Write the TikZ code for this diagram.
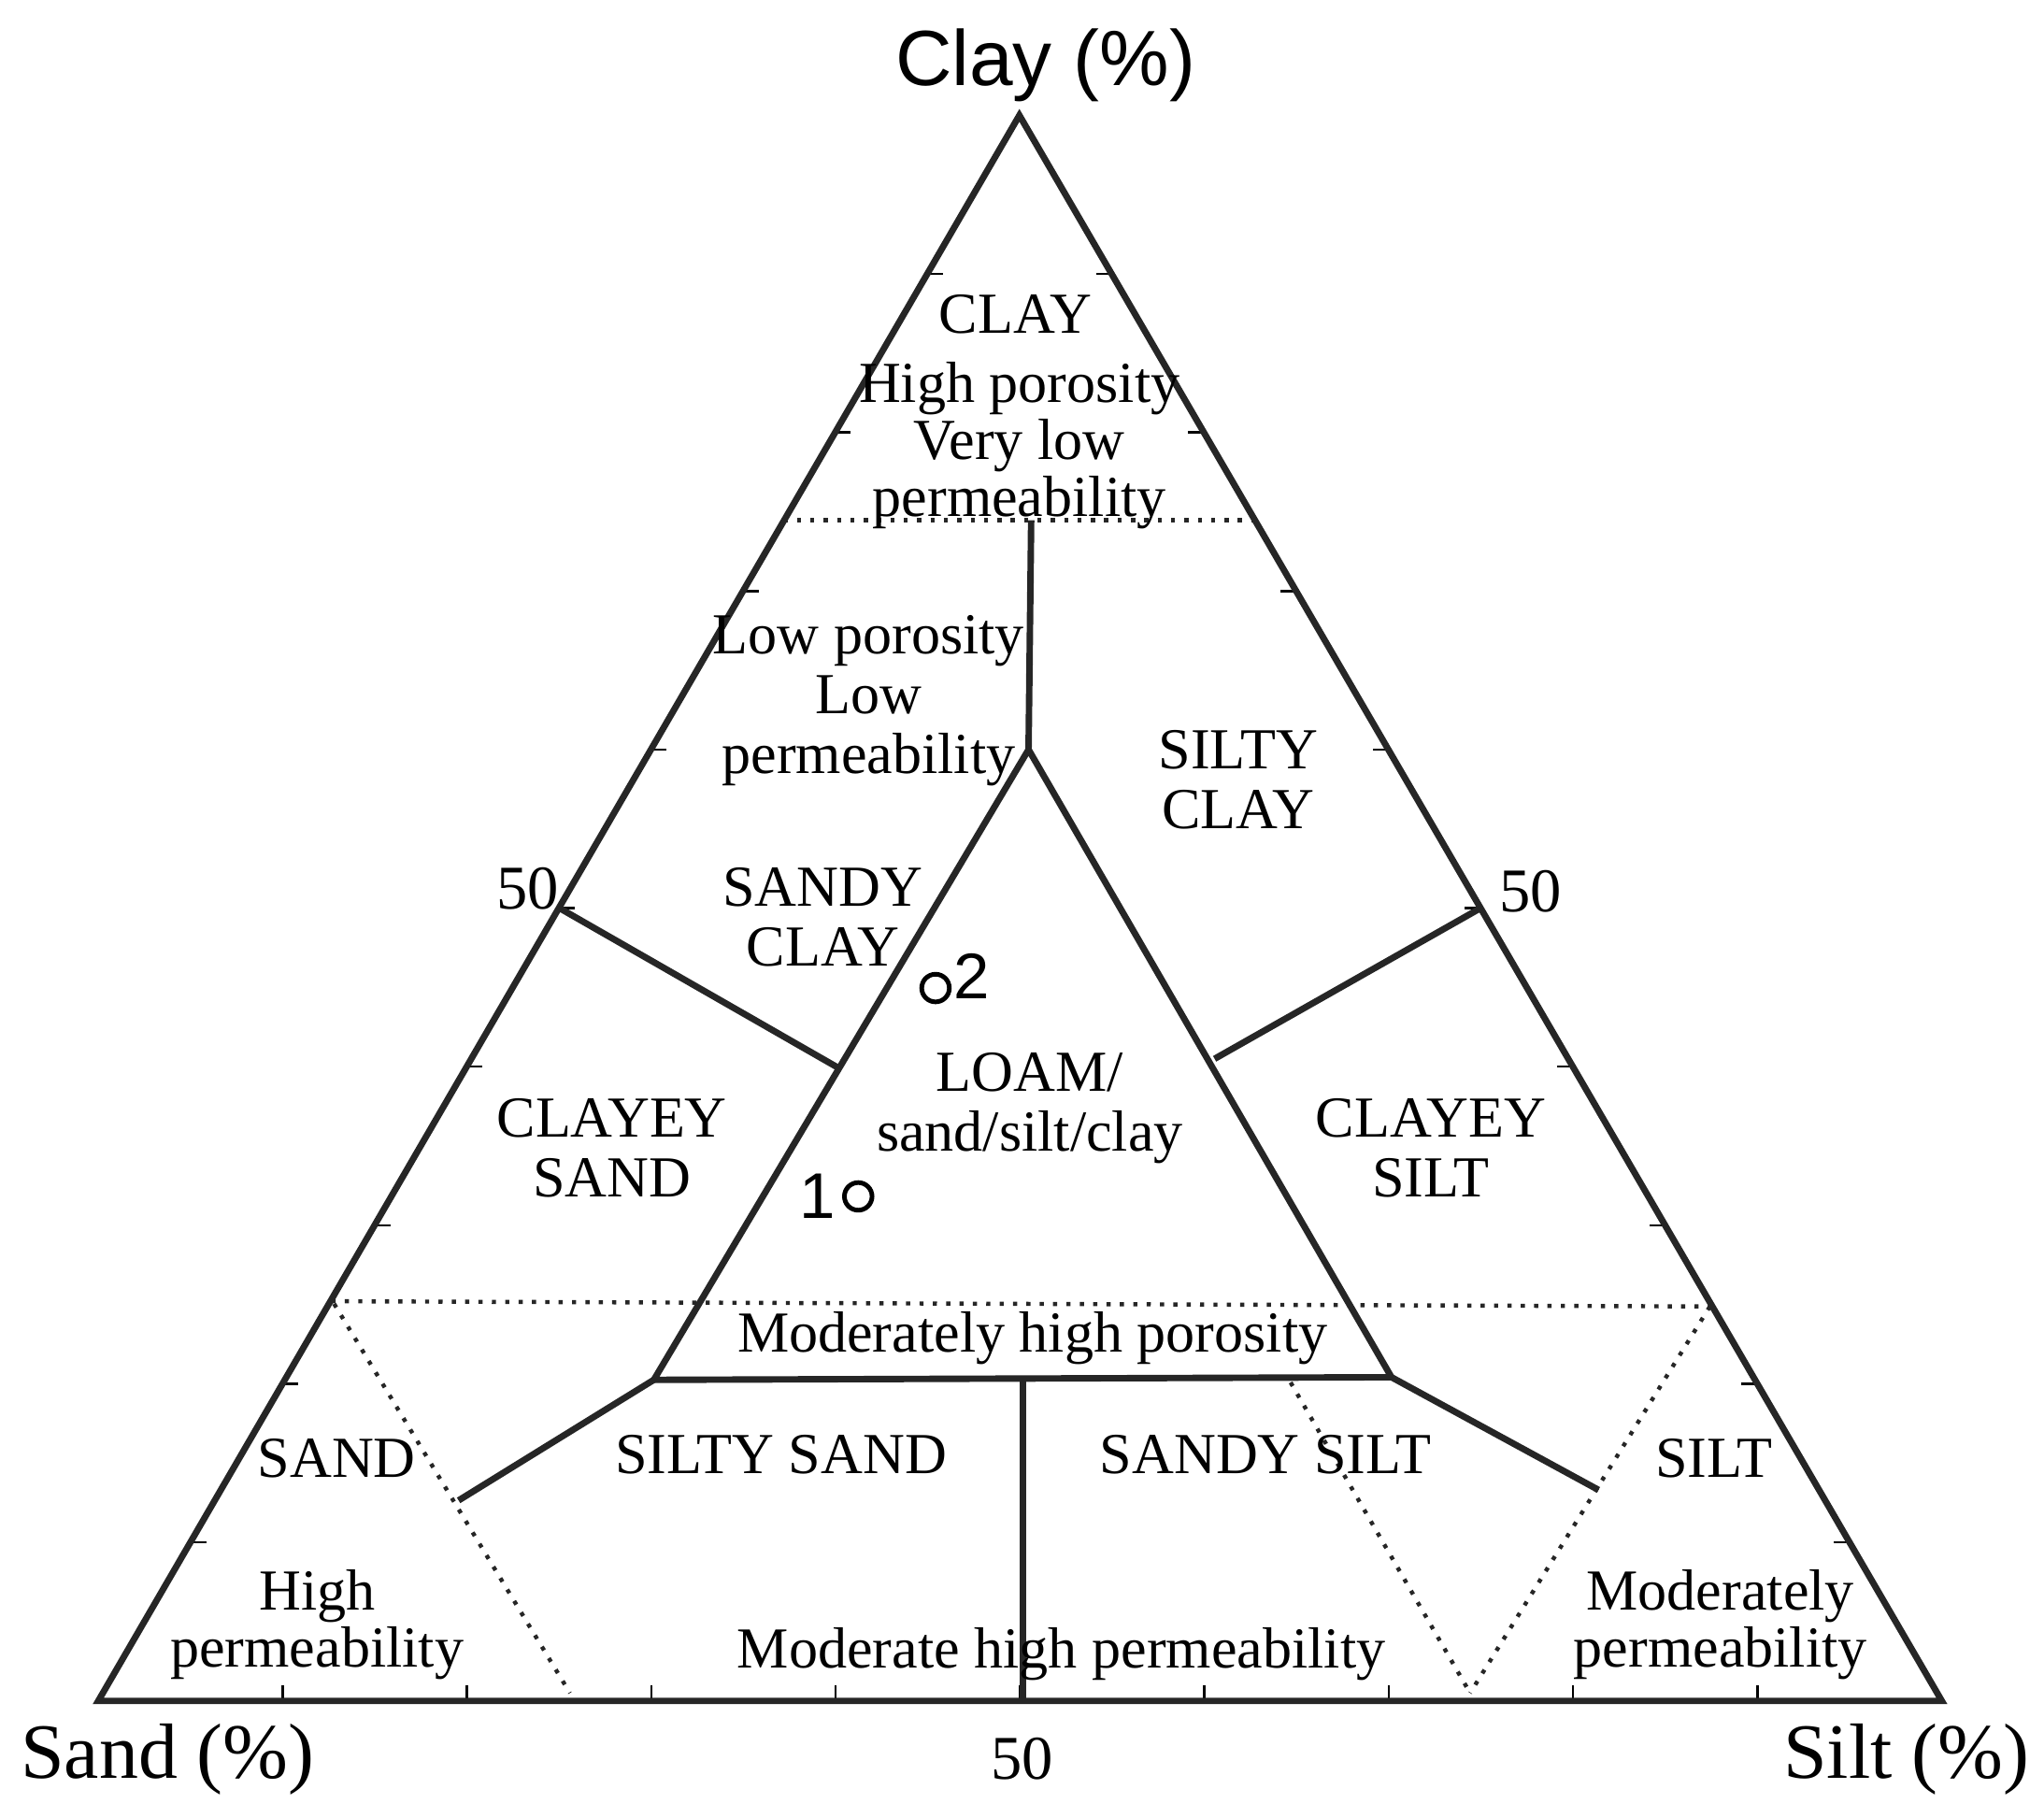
\documentclass[tikz,border=0pt]{standalone}
\usepackage{fontspec}
\setmainfont{Liberation Serif}
\newfontfamily\axsans{Liberation Sans}
\usetikzlibrary{calc}
\tikzset{edge/.style={line width=1.4pt, color=black!85}}
\tikzset{dedge/.style={line width=0.9pt, dotted, color=black!85}}
\tikzset{lab/.style={align=center, font=\fontsize{12.6}{13}\selectfont, inner sep=1pt}}
\tikzset{sample/.style={draw, circle, line width=1pt, inner sep=0pt, minimum size=6pt}}

\begin{document}
\begin{tikzpicture}[x=0.01cm, y=-0.01cm]
        \useasboundingbox (0,0) rectangle (1560,1387);
        \coordinate (Ct) at (778, 88);
        \coordinate (Sa) at (75, 1298);
        \coordinate (Si) at (1482, 1298);
        \coordinate (Ml) at (427, 693);
        \coordinate (Mr) at (1130, 693);
        \coordinate (Mb) at (781, 1298);
        \coordinate (It) at (785, 572);
        \coordinate (Il) at (499, 1053);
        \coordinate (Ir) at (1062, 1051);
        \coordinate (Pl) at (640, 815);
        \coordinate (Pr) at (927, 808);
        \coordinate (Ib) at (781, 1052);

        % ticks
        \foreach \k in {1,...,9} {
            \draw [line width=0.5pt] ($(Sa)!\k/10!(Ct)$) -- ++(12,0);
            \draw [line width=0.5pt] ($(Si)!\k/10!(Ct)$) -- ++(-12,0);
            \draw [line width=0.5pt] ($(Sa)!\k/10!(Si)$) -- ++(0,-12);
        }

        \draw [edge] (Ct) -- (Sa) -- (Si) -- cycle;
        \draw [dedge] (598,397) -- (957,397);
        \draw [edge] (787,397) -- (It);
        \draw [edge] (It) -- (Il) -- (Ir) -- cycle;
        \draw [edge] (Pl) -- (Ml);
        \draw [edge] (Pr) -- (Mr);
        \draw [edge] (Il) -- (350,1145);
        \draw [edge] (Ir) -- (1220,1137);
        \draw [edge] (Ib) -- (Mb);
        \draw [dedge] (253,993) -- (1305,997);
        \draw [dedge] (255,995) -- (435,1292);
        \draw [dedge] (1305,997) -- (1122,1292);
        \draw [dedge] (985,1055) -- (1122,1292);

        \node [font=\axsans\fontsize{17}{17}\selectfont] (clay) at (798,50) {Clay (\%)};
        \node [font=\fontsize{17}{17}\selectfont] (sand) at (128,1343) {Sand (\%)};
        \node [font=\fontsize{17}{17}\selectfont] (silt) at (1455,1343) {Silt (\%)};
        \node [lab, font=\fontsize{13.5}{13.5}\selectfont] (f1) at (403,678) {50};
        \node [lab, font=\fontsize{13.5}{13.5}\selectfont] (f2) at (1168,680) {50};
        \node [lab, font=\fontsize{13.5}{13.5}\selectfont] (f3) at (780,1342) {50};

        \node [lab] (nclay) at (775,240) {CLAY};
        \node [lab, font=\fontsize{12.6}{10.6}\selectfont] (nclayp) at (778,340) {High porosity\\Very low\\permeability};
        \node [lab] (nlow) at (663,535) {Low porosity\\Low\\permeability};
        \node [lab] (nsc) at (628,700) {SANDY\\CLAY};
        \node [lab] (nsic) at (945,595) {SILTY\\CLAY};
        \node [lab] (ncs) at (467,876) {CLAYEY\\SAND};
        \node [lab] (nloam) at (786,846) {LOAM/\\sand/silt/clay};
        \node [lab] (ncsi) at (1092,876) {CLAYEY\\SILT};
        \node [lab] (nmod) at (788,1021) {Moderately high porosity};
        \node [lab] (nsand) at (257,1113) {SAND};
        \node [lab] (nss) at (596,1110) {SILTY SAND};
        \node [lab] (nsas) at (966,1110) {SANDY SILT};
        \node [lab] (nsilt) at (1308,1113) {SILT};
        \node [lab, font=\fontsize{12.6}{11}\selectfont] (nhp) at (242,1240) {High\\permeability};
        \node [lab] (nmhp) at (810,1262) {Moderate high permeability};
        \node [lab, font=\fontsize{12.6}{11}\selectfont] (nmp) at (1313,1240) {Moderately\\permeability};

        \node [sample] (s1) at (655,913) {};
        \node [font=\axsans\fontsize{14}{14}\selectfont, left=-2pt] (l1) at (s1.west) {1};
        \node [sample] (s2) at (714,754) {};
        \node [font=\axsans\fontsize{14}{14}\selectfont, right=-2pt] (l2) at (s2.north east) {2};
\end{tikzpicture}
\end{document}
